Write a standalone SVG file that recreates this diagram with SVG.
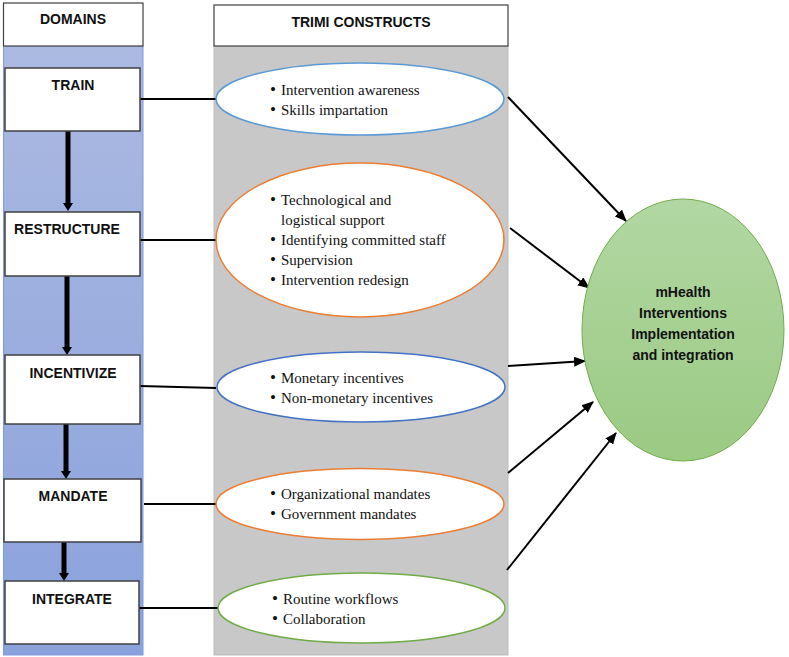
<svg xmlns="http://www.w3.org/2000/svg" width="789" height="657" viewBox="0 0 789 657">
<defs>
<linearGradient id="blueG" x1="0" y1="0" x2="0" y2="1">
<stop offset="0" stop-color="#abbae1"/>
<stop offset="1" stop-color="#8aa1dc"/>
</linearGradient>
<linearGradient id="greenG" x1="0" y1="0" x2="0" y2="1">
<stop offset="0" stop-color="#b2d7a3"/>
<stop offset="1" stop-color="#9bca83"/>
</linearGradient>
<marker id="ah" viewBox="0 0 12 10" refX="11" refY="5" markerWidth="6" markerHeight="5" orient="auto" markerUnits="strokeWidth">
<path d="M0,0 L12,5 L0,10 Z" fill="#000"/>
</marker>
</defs>
<style>
.hdr{fill:#fff;stroke:#404040;stroke-width:1.2}
.box{fill:#fff;stroke:#404040;stroke-width:1.5}
.lbl{font-family:"Liberation Sans",Arial,sans-serif;font-weight:bold;font-size:14px;fill:#111}
.itm{font-family:"Liberation Serif","Times New Roman",serif;font-size:15px;fill:#111}
.bul{font-size:17px}
.ell{fill:#fff;stroke-width:1.5}
.conn{stroke:#000;stroke-width:2;fill:none}
.arr{stroke:#000;stroke-width:2;fill:none;marker-end:url(#ah)}
.vline{stroke:#000;stroke-width:5;fill:none}
.vhead{fill:#000}
</style>
<rect width="789" height="657" fill="#fff"/>
<!-- panels -->
<g id="domains-panel">
<rect x="3.5" y="46" width="139.5" height="609" fill="url(#blueG)" stroke="#7f9be0" stroke-width="1"/>
<rect class="hdr" x="3.5" y="3" width="139.5" height="43"/>
<text class="lbl" x="73" y="24" text-anchor="middle">DOMAINS</text>
</g>
<g id="constructs-panel">
<rect x="214" y="46" width="294" height="609" fill="#c8c8c8" stroke="#bdbdbd" stroke-width="1"/>
<rect class="hdr" x="214" y="5" width="294" height="41"/>
<text class="lbl" x="361" y="27" text-anchor="middle">TRIMI CONSTRUCTS</text>
</g>
<!-- connectors -->
<g id="connectors">
<line class="vline" x1="68" y1="131" x2="68" y2="204"/>
<path class="vhead" d="M63,203 L73,203 L68,211 Z"/>
<line class="vline" x1="67" y1="276" x2="67" y2="348"/>
<path class="vhead" d="M62,347 L72,347 L67,355 Z"/>
<line class="vline" x1="66" y1="424" x2="66" y2="472"/>
<path class="vhead" d="M61,471 L71,471 L66,479 Z"/>
<line class="vline" x1="64" y1="542" x2="64" y2="574"/>
<path class="vhead" d="M59,573 L69,573 L64,581 Z"/>
<line class="conn" x1="140" y1="99" x2="216" y2="99"/>
<line class="conn" x1="140" y1="240" x2="216" y2="240"/>
<line class="conn" x1="140" y1="386" x2="216" y2="388"/>
<line class="conn" x1="144" y1="504" x2="216" y2="504"/>
<line class="conn" x1="139" y1="608" x2="218" y2="608"/>
<line class="arr" x1="508" y1="97" x2="626" y2="221"/>
<line class="arr" x1="510" y1="228" x2="589" y2="288"/>
<line class="arr" x1="508" y1="366" x2="585" y2="361"/>
<line class="arr" x1="508" y1="473" x2="593" y2="402"/>
<line class="arr" x1="507" y1="570" x2="616" y2="433"/>
</g>
<!-- domain nodes -->
<g id="train">
<rect class="box" x="5" y="68" width="135" height="63"/>
<text class="lbl" x="73" y="90" text-anchor="middle">TRAIN</text>
</g>
<g id="restructure">
<rect class="box" x="5" y="212" width="135" height="64"/>
<text class="lbl" x="67" y="234" text-anchor="middle">RESTRUCTURE</text>
</g>
<g id="incentivize">
<rect class="box" x="5" y="355" width="135" height="69"/>
<text class="lbl" x="73" y="378" text-anchor="middle">INCENTIVIZE</text>
</g>
<g id="mandate">
<rect class="box" x="4" y="479" width="137" height="63"/>
<text class="lbl" x="73" y="501" text-anchor="middle">MANDATE</text>
</g>
<g id="integrate">
<rect class="box" x="5" y="581" width="134" height="63"/>
<text class="lbl" x="72" y="604" text-anchor="middle">INTEGRATE</text>
</g>
<!-- construct nodes -->
<g id="c-train">
<ellipse class="ell" cx="360" cy="99" rx="144" ry="36" stroke="#5b9bd5"/>
<text class="itm" y="95"><tspan class="bul" x="270">•</tspan><tspan x="281">Intervention awareness</tspan></text>
<text class="itm" y="115"><tspan class="bul" x="270">•</tspan><tspan x="281">Skills impartation</tspan></text>
</g>
<g id="c-restructure">
<ellipse class="ell" cx="360" cy="240" rx="144" ry="77" stroke="#ed7d31"/>
<text class="itm" y="205"><tspan class="bul" x="270">•</tspan><tspan x="281">Technological and</tspan></text>
<text class="itm" y="225"><tspan x="281">logistical support</tspan></text>
<text class="itm" y="245"><tspan class="bul" x="270">•</tspan><tspan x="281">Identifying committed staff</tspan></text>
<text class="itm" y="265"><tspan class="bul" x="270">•</tspan><tspan x="281">Supervision</tspan></text>
<text class="itm" y="285"><tspan class="bul" x="270">•</tspan><tspan x="281">Intervention redesign</tspan></text>
</g>
<g id="c-incentivize">
<ellipse class="ell" cx="361" cy="387" rx="144" ry="35" stroke="#4472c4"/>
<text class="itm" y="383"><tspan class="bul" x="270">•</tspan><tspan x="281">Monetary incentives</tspan></text>
<text class="itm" y="403"><tspan class="bul" x="270">•</tspan><tspan x="281">Non-monetary incentives</tspan></text>
</g>
<g id="c-mandate">
<ellipse class="ell" cx="360" cy="504" rx="144" ry="35.5" stroke="#ed7d31"/>
<text class="itm" y="499"><tspan class="bul" x="270">•</tspan><tspan x="281">Organizational mandates</tspan></text>
<text class="itm" y="519"><tspan class="bul" x="270">•</tspan><tspan x="281">Government mandates</tspan></text>
</g>
<g id="c-integrate">
<ellipse class="ell" cx="361.5" cy="608" rx="143.5" ry="35" stroke="#70ad47"/>
<text class="itm" y="604"><tspan class="bul" x="272">•</tspan><tspan x="283">Routine workflows</tspan></text>
<text class="itm" y="624"><tspan class="bul" x="272">•</tspan><tspan x="283">Collaboration</tspan></text>
</g>
<!-- outcome -->
<g id="outcome">
<ellipse cx="683" cy="330" rx="101" ry="131" fill="url(#greenG)" stroke="#70ad47" stroke-width="1"/>
<text class="lbl" x="683" y="297" text-anchor="middle">mHealth</text>
<text class="lbl" x="683" y="318" text-anchor="middle">Interventions</text>
<text class="lbl" x="683" y="339" text-anchor="middle">Implementation</text>
<text class="lbl" x="683" y="360" text-anchor="middle">and integration</text>
</g>
</svg>
